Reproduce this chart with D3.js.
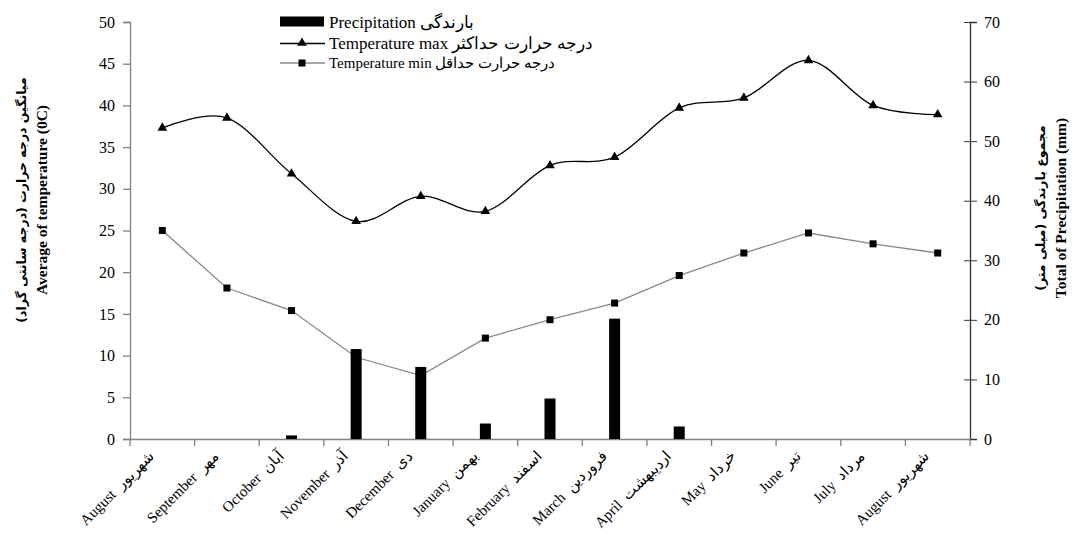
<!DOCTYPE html>
<html><head><meta charset="utf-8">
<script src="https://cdn.jsdelivr.net/npm/d3@7"></script>
<style>body{margin:0;background:#fff}svg{display:block}svg text{font-family:"Liberation Serif","Times New Roman",serif}</style>
</head><body>
<svg id="c" width="1072" height="533"></svg>
<script>
const monthsEn = ["August","September","October","November","December","January","February","March","April","May","June","July","August"];
const monthsFa = ["شهریور","مهر","آبان","آذر","دی","بهمن","اسفند","فروردین","اردیبهشت","خرداد","تیر","مرداد","شهریور"];
const tempMax = [37.3, 38.5, 31.8, 26.1, 29.1, 27.3, 32.8, 33.8, 39.7, 40.9, 45.4, 40.0, 38.9];
const tempMin = [25.0, 18.1, 15.4, 9.8, 7.6, 12.1, 14.3, 16.3, 19.6, 22.3, 24.7, 23.4, 22.3];
const precip = [0, 0, 0.6, 15.1, 12.1, 2.6, 6.8, 20.2, 2.1, 0, 0, 0, 0];
const leftTicks = [0,5,10,15,20,25,30,35,40,45,50];
const rightTicks = [0,10,20,30,40,50,60,70];

const SERIF = '"Liberation Serif","Times New Roman",serif';
const svg = d3.select("#c");
const L = 130, R = 970, T = 22, B = 439;
const idx = d3.range(monthsEn.length);
const x = d3.scaleBand().domain(idx).range([L, R]).paddingInner(0).paddingOuter(0);
const cx = i => x(i) + x.bandwidth()/2;
const yL = d3.scaleLinear().domain([0,50]).range([B, T]);
const yR = d3.scaleLinear().domain([0,70]).range([B, T]);

// axes
const gl = svg.append("g").attr("transform",`translate(${L},0)`)
  .call(d3.axisLeft(yL).tickValues(leftTicks).tickSize(7).tickPadding(8));
gl.attr("font-family",null);
gl.selectAll("path,line").attr("stroke","#808080").attr("stroke-width",1.3);
gl.selectAll("text").attr("font-size",16).attr("fill","#000").style("font-family",SERIF);

const gr = svg.append("g").attr("transform",`translate(${R},0)`)
  .call(d3.axisRight(yR).tickValues(rightTicks).tickSize(7).tickPadding(7));
gr.attr("font-family",null);
gr.select("path").attr("stroke","#333").attr("stroke-width",1.3);
gr.selectAll("line").attr("stroke","#333").attr("x1",-6).attr("x2",7);
gr.selectAll("text").attr("font-size",16).attr("fill","#000").style("font-family",SERIF);

const gb = svg.append("g").attr("transform",`translate(0,${B})`)
  .call(d3.axisBottom(x).tickSize(0).tickFormat(""));
gb.select("path").attr("stroke","#808080").attr("stroke-width",1.3);
const tickXs = d3.range(monthsEn.length+1).map(i => i < monthsEn.length ? x(i) : R);
svg.append("g").selectAll("line").data(tickXs).join("line")
  .attr("x1",d=>d).attr("x2",d=>d).attr("y1",B).attr("y2",B+7)
  .attr("stroke","#808080").attr("stroke-width",1.3);

// x labels
svg.append("g").selectAll("text").data(idx).join("text")
  .attr("transform", i => `translate(${cx(i)-7},${B+18}) rotate(-45)`)
  .attr("text-anchor","end").attr("font-size",15).attr("direction","ltr")
  .attr("xml:space","preserve").style("white-space","pre")
  .style("font-family",SERIF)
  .text(i => monthsEn[i] + "  " + monthsFa[i]);

// temp min line
svg.append("path").datum(idx)
  .attr("d", d3.line().x(cx).y(i=>yL(tempMin[i])))
  .attr("fill","none").attr("stroke","#888").attr("stroke-width",1.3);
svg.append("g").selectAll("rect").data(idx).join("rect")
  .attr("x",i=>cx(i)-3.5).attr("y",i=>yL(tempMin[i])-3.5).attr("width",7).attr("height",7).attr("fill","#000");

// temp max line (smoothed)
svg.append("path").datum(idx)
  .attr("d", d3.line().x(cx).y(i=>yL(tempMax[i])).curve(d3.curveCardinal.tension(0)))
  .attr("fill","none").attr("stroke","#000").attr("stroke-width",1.3);
const tri = d3.symbol().type(d3.symbolTriangle).size(40);
svg.append("g").selectAll("path").data(idx).join("path")
  .attr("transform",i=>`translate(${cx(i)},${yL(tempMax[i])})`)
  .attr("d",tri()).attr("fill","#000");

// bars
const bw = 11;
svg.append("g").selectAll("rect").data(idx.filter(i=>precip[i]>0)).join("rect")
  .attr("x",i=>cx(i)-bw/2).attr("width",bw)
  .attr("y",i=>yR(precip[i])).attr("height",i=>B-yR(precip[i])).attr("fill","#000");

// legend
const lg = svg.append("g");
lg.append("rect").attr("x",280).attr("y",16.5).attr("width",44).attr("height",10).attr("fill","#000");
lg.append("text").attr("x",329).attr("y",28).attr("font-size",17).attr("direction","ltr").style("font-family",SERIF).text("Precipitation بارندگی");
lg.append("line").attr("x1",280).attr("x2",325).attr("y1",43.5).attr("y2",43.5).attr("stroke","#000").attr("stroke-width",1.3);
lg.append("path").attr("transform","translate(302,43)").attr("d",tri()).attr("fill","#000");
lg.append("text").attr("x",329).attr("y",49).attr("font-size",17).attr("direction","ltr").style("font-family",SERIF).text("Temperature max درجه حرارت حداکثر");
lg.append("line").attr("x1",280).attr("x2",325).attr("y1",63).attr("y2",63).attr("stroke","#888").attr("stroke-width",1.3);
lg.append("rect").attr("x",298.5).attr("y",59.5).attr("width",7).attr("height",7).attr("fill","#000");
lg.append("text").attr("x",329).attr("y",68).attr("font-size",15).attr("direction","ltr").style("font-family",SERIF).text("Temperature min درجه حرارت حداقل");

// axis titles
svg.append("text").attr("transform","translate(26,200) rotate(-90)").attr("text-anchor","middle")
  .attr("font-size",12.5).attr("font-weight","bold").style("font-family","DejaVu Sans").text("میانگین درجه حرارت (درجه سانتی گراد)");
svg.append("text").attr("transform","translate(47,200) rotate(-90)").attr("text-anchor","middle")
  .attr("font-size",15.5).attr("font-weight","bold").style("font-family",SERIF).text("Average of temperature (0C)");
svg.append("text").attr("transform","translate(1045,208) rotate(-90)").attr("text-anchor","middle")
  .attr("font-size",12.5).attr("font-weight","bold").style("font-family","DejaVu Sans").text("مجموع بارندگی (میلی متر)");
svg.append("text").attr("transform","translate(1066,208) rotate(-90)").attr("text-anchor","middle")
  .attr("font-size",15.5).attr("font-weight","bold").style("font-family",SERIF).text("Total of Precipitation (mm)");
</script>
</body></html>
